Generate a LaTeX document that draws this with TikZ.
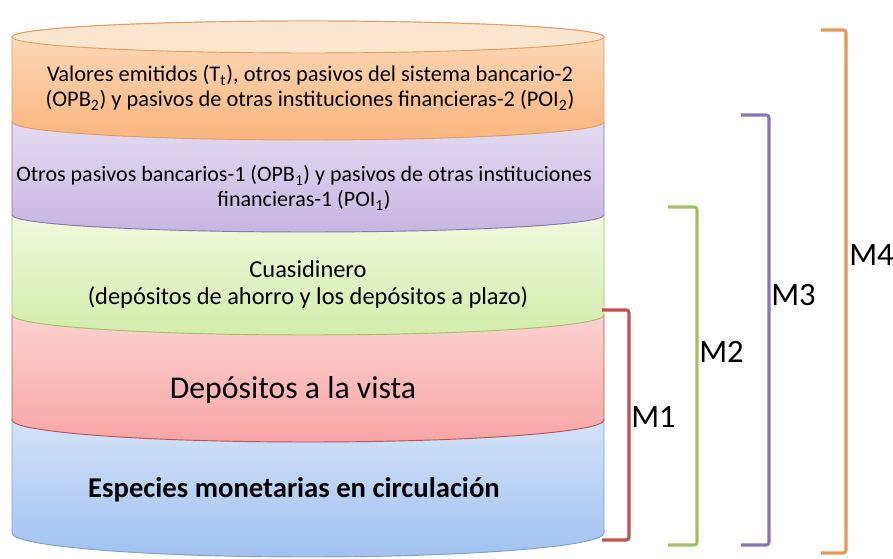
\documentclass[tikz,border=0pt]{standalone}
\usepackage{fontspec}
\setmainfont{Carlito}
\usetikzlibrary{positioning}
\definecolor{naranjaL}{HTML}{E39B5F}
\definecolor{moradoL}{HTML}{8B74B5}
\definecolor{verdeL}{HTML}{A3C065}
\definecolor{rojoL}{HTML}{C0504D}
\definecolor{azulL}{HTML}{7F9FCF}
\definecolor{naranjaA}{HTML}{FDDDBF}\definecolor{naranjaB}{HTML}{FAB57E}
\definecolor{naranjaT}{HTML}{FDE6CF}
\definecolor{moradoA}{HTML}{E4DBF2}\definecolor{moradoB}{HTML}{C6B6E2}
\definecolor{verdeA}{HTML}{F1F9DC}\definecolor{verdeB}{HTML}{D3ECAC}
\definecolor{rojoA}{HTML}{FCD2D1}\definecolor{rojoB}{HTML}{F7A6A4}
\definecolor{azulA}{HTML}{D3E3F9}\definecolor{azulB}{HTML}{A0C2F0}
\tikzset{layer/.style={draw=#1, line width=0.7pt},
  layer text/.style={align=center, font=\fontsize{16.8}{18.75}\selectfont},
  bracket/.style={draw=#1, line width=2.3pt, rounded corners=2pt},
  m label/.style={anchor=west, inner sep=0pt, font=\fontsize{24.5}{26}\selectfont},}
% one slice of the cylinder: top y, bottom y, depth of the front arc, colours
\newcommand{\capa}[6]{\draw[layer=#6, top color=#4, bottom color=#5] (12,-#1) -- (12,-#2)
  arc[start angle=180, end angle=360, x radius=296, y radius=#3] -- (604,-#1) -- cycle;}

\begin{document}
\begin{tikzpicture}[x=0.75pt,y=0.75pt]
      \useasboundingbox (0,0) rectangle (893,-559);
      % slices, bottom first
      \capa{420}{533}{24}{azulA}{azulB}{azulL}
      \capa{315}{420}{22}{rojoA}{rojoB}{rojoL}
      \capa{215}{315}{20}{verdeA}{verdeB}{verdeL}
      \capa{122}{215}{17}{moradoA}{moradoB}{moradoL}
      \draw[layer=naranjaL, top color=naranjaA, bottom color=naranjaB] (12,-37) -- (12,-122)
        arc[start angle=180, end angle=360, x radius=296, y radius=18] -- (604,-37)
        arc[start angle=0, end angle=180, x radius=296, y radius=16] -- cycle;
      \draw[layer=naranjaL, fill=naranjaT] (308,-37) ellipse[x radius=296, y radius=16];

      \node[layer text] (valores) at (310,-88) {Valores emitidos (T\textsubscript{t}), otros pasivos del sistema bancario-2\\(OPB\textsubscript{2}) y pasivos de otras instituciones financieras-2 (POI\textsubscript{2})};
      \node[layer text, font=\fontsize{16.5}{18.75}\selectfont] (otros) at (304,-188) {Otros pasivos bancarios-1 (OPB\textsubscript{1}) y pasivos de otras instituciones\\financieras-1 (POI\textsubscript{1})};
      \node[layer text, font=\fontsize{18.3}{20.25}\selectfont] (cuasi) at (308,-284) {Cuasidinero\\(depósitos de ahorro y los depósitos a plazo)};
      \node[font=\fontsize{23.8}{26}\selectfont] (vista) at (293,-390) {Depósitos a la vista};
      \node[font=\fontsize{21.5}{24}\selectfont\bfseries] (especies) at (294,-490) {Especies monetarias en circulación};

      % brackets
      \draw[bracket=rojoL] (602,-310) -- (629,-310) -- (629,-540) -- (602,-540);
      \draw[bracket=verdeL] (668,-207) -- (697,-207) -- (697,-545) -- (668,-545);
      \draw[bracket=moradoL] (741,-115) -- (769,-115) -- (769,-545) -- (741,-545);
      \draw[bracket=naranjaL!90!orange] (821,-30) -- (846,-30) -- (846,-553) -- (821,-553);
      \node[m label] (m1) at (631,-417) {M1};
      \node[m label] (m2) at (699,-352) {M2};
      \node[m label] (m3) at (771,-295) {M3};
      \node[m label] (m4) at (849,-255) {M4};
    \end{tikzpicture}
\end{document}
